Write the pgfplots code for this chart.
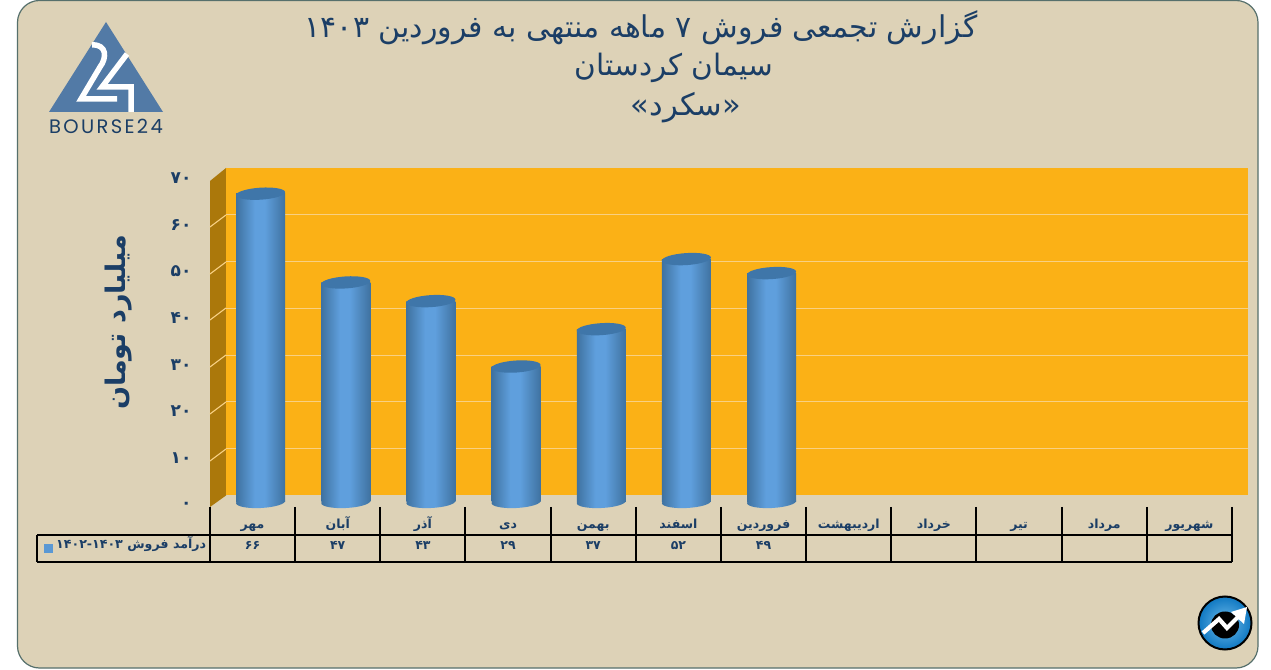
\documentclass[border=0pt]{standalone}
\usepackage{fontspec}
\usepackage{pgfplots}
\pgfplotsset{compat=1.18}
\TeXXeTstate=1
\newfontfamily\arabicfont[Script=Arabic]{DejaVu Sans}
\newfontfamily\logofont[LetterSpace=12]{Poppins}
\newcommand{\ar}[1]{\strut\beginR#1\endR}

\definecolor{card}{HTML}{DDD2B7}
\definecolor{cardedge}{HTML}{56706C}
\definecolor{wall}{HTML}{FBB116}
\definecolor{sidewall}{HTML}{AB780B}
\definecolor{gridc}{HTML}{F8D083}
\definecolor{navy}{HTML}{1B3E66}
\definecolor{logoblue}{HTML}{527AA6}
\definecolor{barcap}{HTML}{3F76A9}
\definecolor{baredge}{HTML}{3F72A0}
\definecolor{barmid}{HTML}{5F9FDD}
\definecolor{badgein}{HTML}{6FBBEA}
\definecolor{badgeout}{HTML}{0F78C2}

\pgfdeclarehorizontalshading{cyl}{100bp}{
  color(0bp)=(baredge); color(25bp)=(baredge); color(44bp)=(barmid);
  color(54bp)=(barmid); color(75bp)=(baredge); color(100bp)=(baredge)}
\pgfdeclareplotmark{cylbase}{%
  \pgfpathellipse{\pgfqpoint{8pt}{0pt}}{\pgfqpoint{24.5pt}{1.2pt}}{\pgfqpoint{-0.3pt}{6pt}}%
  \pgfshadepath{cyl}{0}\pgfusepath{discard}}
\pgfdeclareplotmark{cylcap}{%
  \pgfpathellipse{\pgfqpoint{8pt}{0pt}}{\pgfqpoint{24.5pt}{1.6pt}}{\pgfqpoint{-0.4pt}{6pt}}%
  \pgfusepathqfill}
\pgfplotsset{cylbar/.style={ybar,bar width=49pt,bar shift=8pt,draw=none,shade,shading=cyl,forget plot}}

\begin{document}
\begin{tikzpicture}
\path[use as bounding box] (0pt,0pt) rectangle (1271pt,669pt);
\begin{scope}[x=1pt,y=-1pt,shift={(0pt,669pt)}]
  % card
  \fill[white] (0,0) rectangle (1271,669);
  \draw[cardedge,fill=card,line width=1.2pt,rounded corners=22pt] (17.5,0.5) rectangle (1258,668);
  % title
  \node[navy,font=\arabicfont\fontsize{30}{30}\selectfont] at (641,28) {\beginR گزارش تجمعی فروش ۷ ماهه منتهی به فروردین \beginL۱۴۰۳\endL\endR};
  \node[navy,font=\arabicfont\fontsize{29.5}{30}\selectfont] at (674,68) {\beginR سیمان کردستان\endR};
  \node[navy,font=\arabicfont\fontsize{30.5}{31}\selectfont] at (686,108) {\beginR «سکرد»\endR};
  % logo
  \fill[logoblue] (106,22) -- (163,112) -- (49,112) -- cycle;
  \draw[white,line width=5.5pt] (92,45) .. controls (107,44) and (107,58) .. (100,67) -- (81,99) -- (117,99);
  \draw[white,line width=5.5pt] (127,54) -- (102,87) -- (131,87) -- (131,112);
  \node[navy,font=\logofont\fontsize{19.5}{20}\selectfont] at (106,126) {BOURSE24};
  % side wall
  \fill[sidewall] (210,181) -- (226,168) -- (226,495.5) -- (210,507) -- cycle;
  \foreach \yy in {215,262,308,355,402,449}
    \draw[gridc,line width=1.1pt] (210,\yy+12) -- (226,\yy);
\end{scope}

% back wall with its grid
\begin{axis}[
  at={(226pt,173.5pt)},anchor=south west,
  scale only axis,width=1022pt,height=327.5pt,
  xmin=0,xmax=1,ymin=0,ymax=70,
  axis line style={draw=none},
  axis background/.style={fill=wall},
  xtick=\empty,ytick={10,20,30,40,50,60},yticklabels={},
  major tick length=0pt,
  ymajorgrids,
  grid style={gridc,line width=1.1pt},
]
\end{axis}

% bars and table labels
\begin{axis}[
  at={(210pt,167pt)},anchor=south west,
  scale only axis,width=1022pt,height=327pt,
  clip=false,
  xmin=-0.5,xmax=11.5,ymin=0,ymax=70,
  axis line style={draw=none},
  major tick length=0pt,
  ytick={0,10,20,30,40,50,60,70},
  yticklabels={۰,۱۰,۲۰,۳۰,۴۰,۵۰,۶۰,۷۰},
  yticklabel style={font=\arabicfont\bfseries\fontsize{17}{17}\selectfont,text=navy,xshift=-15pt,yshift=-3pt},
  xtick={0,1,2,3,4,5,6,7,8,9,10,11},
  xticklabels={
    {\ar{مهر}\\\ar{۶۶}},{\ar{آبان}\\\ar{۴۷}},{\ar{آذر}\\\ar{۴۳}},{\ar{دی}\\\ar{۲۹}},
    {\ar{بهمن}\\\ar{۳۷}},{\ar{اسفند}\\\ar{۵۲}},{\ar{فروردین}\\\ar{۴۹}},{\ar{اردیبهشت}},
    {\ar{خرداد}},{\ar{تیر}},{\ar{مرداد}},{\ar{شهریور}}},
  xticklabel style={font=\arabicfont\bfseries\fontsize{12.5}{21}\selectfont,text=navy,
    align=center,anchor=north,yshift=-12pt,inner sep=0pt},
  every axis y label/.style={at={(axis description cs:-0.089,0.55)},rotate=90,anchor=center,
    font=\arabicfont\bfseries\fontsize{27}{27}\selectfont,text=navy},
  ylabel={\beginR میلیارد تومان\endR},
]
\addplot[only marks,mark=cylbase,forget plot] coordinates {(0,0) (1,0) (2,0) (3,0) (4,0) (5,0) (6,0)};
\addplot[cylbar] coordinates {(0,66)};
\addplot[cylbar] coordinates {(1,47)};
\addplot[cylbar] coordinates {(2,43)};
\addplot[cylbar] coordinates {(3,29)};
\addplot[cylbar] coordinates {(4,37)};
\addplot[cylbar] coordinates {(5,52)};
\addplot[cylbar] coordinates {(6,49)};
\addplot[only marks,mark=cylcap,barcap,forget plot]
  coordinates {(0,66) (1,47) (2,43) (3,29) (4,37) (5,52) (6,49)};
\end{axis}

\begin{scope}[x=1pt,y=-1pt,shift={(0pt,669pt)}]
  % table
  \draw[black,line width=1.7pt] (37,535) -- (1232,535) (37,562) -- (1232,562) (37,535) -- (37,562);
  \foreach \xx in {210,295,380,465,551,636,721,806,891,976,1062,1147,1232}
    \draw[black,line width=1.7pt] (\xx,507) -- (\xx,562);
  \fill[barmid!85!baredge] (44,544) rectangle (53,553);
  \node[navy,font=\arabicfont\bfseries\fontsize{12.6}{13}\selectfont,anchor=west,inner sep=0pt] at (56,544)
    {\beginR درآمد فروش \beginL۱۴۰۲-۱۴۰۳\endL\endR};
  % badge
  \shade[inner color=badgein,outer color=badgeout,draw=black,line width=2pt] (1225,623) circle (26.5);
  \fill[black] (1225,625) ellipse (14 and 13.5);
  \draw[white,line width=4.2pt] (1203,633) -- (1219,619) -- (1227,628) -- (1240,615);
  \fill[white] (1247,607) -- (1244,624) -- (1231,612) -- cycle;
\end{scope}
\end{tikzpicture}
\end{document}
